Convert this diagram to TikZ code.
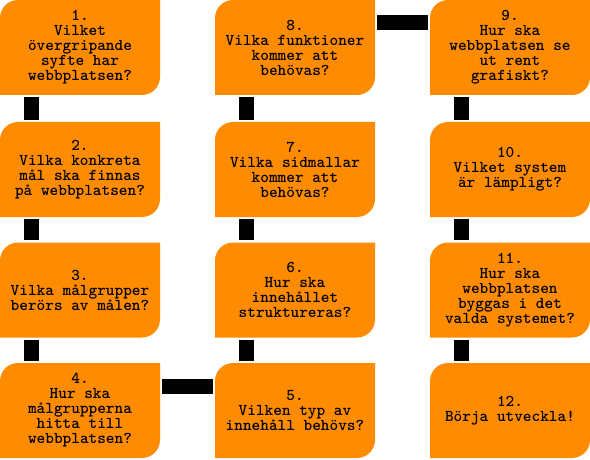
\documentclass[tikz,border=0pt]{standalone}
\usepackage{tikz}
\usepackage{xcolor}
\definecolor{steporange}{RGB}{255,140,0}

\begin{document}
\begin{tikzpicture}[x=1pt,y=1pt,
	stepbox/.style={minimum width=160pt, minimum height=95pt, inner sep=0pt, align=center,
		font=\ttfamily\bfseries\fontsize{16.5}{15}\selectfont,
		path picture={\fill[steporange] (path picture bounding box.south west)
			-- ([yshift=-18pt]path picture bounding box.north west)
			arc[start angle=180, end angle=90, radius=18pt]
			-- (path picture bounding box.north east)
			-- ([yshift=18pt]path picture bounding box.south east)
			arc[start angle=0, end angle=-90, radius=18pt]
			-- cycle;}},
	link/.style={line width=15pt, black, shorten <=2pt, shorten >=2pt}]
			\useasboundingbox (0,0) rectangle (590,-460);
			
			\node[stepbox] (b1) at (80,-47.5) {1.\\Vilket\\övergripande\\syfte har\\webbplatsen?};
			\node[stepbox] (b2) at (80,-169.5) {2.\\Vilka konkreta\\mål ska finnas\\på webbplatsen?};
			\node[stepbox] (b3) at (80,-290) {3.\\Vilka målgrupper\\berörs av målen?};
			\node[stepbox] (b4) at (80,-410.5) {4.\\Hur ska\\målgrupperna\\hitta till\\webbplatsen?};
			
			\node[stepbox] (b5) at (295,-410.5) {5.\\Vilken typ av\\innehåll behövs?};
			\node[stepbox] (b6) at (295,-290) {6.\\Hur ska\\innehållet\\struktureras?};
			\node[stepbox] (b7) at (295,-169.5) {7.\\Vilka sidmallar\\kommer att\\behövas?};
			\node[stepbox] (b8) at (295,-47.5) {8.\\Vilka funktioner\\kommer att\\behövas?};
			
			\node[stepbox] (b9) at (510,-47.5) {9.\\Hur ska\\webbplatsen se\\ut rent\\grafiskt?};
			\node[stepbox] (b10) at (510,-169.5) {10.\\Vilket system\\är lämpligt?};
			\node[stepbox] (b11) at (510,-290) {11.\\Hur ska\\webbplatsen\\byggas i det\\valda systemet?};
			\node[stepbox] (b12) at (510,-410.5) {12.\\Börja utveckla!};
			
			
			\draw[link] ([xshift=-48.5pt]b1.south) -- ([xshift=-48.5pt]b2.north);
			\draw[link] ([xshift=-48.5pt]b2.south) -- ([xshift=-48.5pt]b3.north);
			\draw[link] ([xshift=-48.5pt]b3.south) -- ([xshift=-48.5pt]b4.north);
			\draw[link] ([yshift=24.5pt]b4.east) -- ([yshift=24.5pt]b5.west);
			\draw[link] ([xshift=-48.5pt]b5.north) -- ([xshift=-48.5pt]b6.south);
			\draw[link] ([xshift=-48.5pt]b6.north) -- ([xshift=-48.5pt]b7.south);
			\draw[link] ([xshift=-48.5pt]b7.north) -- ([xshift=-48.5pt]b8.south);
			\draw[link] ([yshift=25pt]b8.east) -- ([yshift=25pt]b9.west);
			\draw[link] ([xshift=-48.5pt]b9.south) -- ([xshift=-48.5pt]b10.north);
			\draw[link] ([xshift=-48.5pt]b10.south) -- ([xshift=-48.5pt]b11.north);
			\draw[link] ([xshift=-48.5pt]b11.south) -- ([xshift=-48.5pt]b12.north);
			
		\end{tikzpicture}
\end{document}
